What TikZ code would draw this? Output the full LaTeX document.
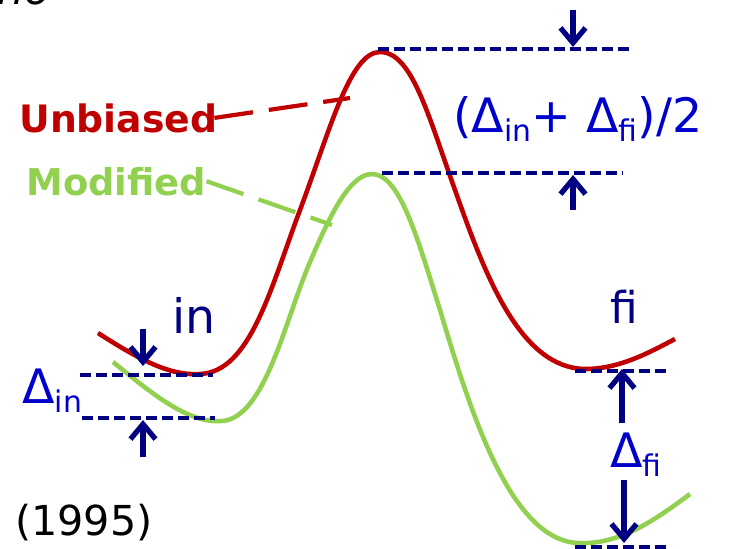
\documentclass[tikz,border=0pt]{standalone}
\usepackage{fontspec}
\setmainfont{DejaVu Sans}
\usepackage{xcolor}
\usetikzlibrary{
	arrows.meta,
	positioning
}
\definecolor{unbred}{HTML}{C00000}
\definecolor{modgreen}{HTML}{92D050}
\definecolor{lvlnavy}{HTML}{000080}
\definecolor{lblblue}{HTML}{0000CC}
\newcommand{\lowsub}[1]{\raisebox{-5.5pt}{\fontsize{17pt}{17pt}\selectfont #1}}

\begin{document}
\begin{tikzpicture}[x=0.02cm,y=-0.02cm,>={Straight Barb[length=3mm,width=5mm]},
	curve/.style={line width=2.6pt},
	leader/.style={line width=2.4pt,dash pattern=on 0.78cm off 0.32cm},
	level/.style={lvlnavy,line width=2pt,dash pattern=on 0.22cm off 0.1cm},
	gap/.style={->,lvlnavy,line width=3pt},
	lbl/.style={inner sep=0pt,anchor=base west}]
			
			\useasboundingbox (0,0) rectangle (729,548);
			
			\node[lbl,font=\itshape\fontsize{24pt}{24pt}\selectfont] (cut) at (-3,4) {no};
			
			\draw[curve,unbred] (98,333) .. controls (140,360) and (170,376) .. (200,374)
			.. controls (250,372) and (270,290) .. (300,210)
			.. controls (330,130) and (350,52) .. (380,52)
			.. controls (412,52) and (428,115) .. (455,190)
			.. controls (485,275) and (520,368) .. (585,369)
			.. controls (620,369) and (650,352) .. (675,339);
			
			\draw[curve,modgreen] (113,362) .. controls (150,392) and (188,424) .. (222,421)
			.. controls (265,418) and (285,320) .. (310,262)
			.. controls (330,215) and (350,174) .. (372,174)
			.. controls (400,174) and (418,240) .. (440,310)
			.. controls (470,410) and (510,540) .. (578,543)
			.. controls (620,545) and (655,520) .. (690,494);
			
			\node[lbl,unbred,font=\bfseries\fontsize{21.5pt}{21.5pt}\selectfont] (unb) at (19,132) {Unbiased};
			\node[lbl,modgreen,font=\bfseries\fontsize{21pt}{21pt}\selectfont] (mod) at (26,195) {Modified};
			\coordinate (unbtip) at (350,98);
			\coordinate (modtip) at (332,225);
			\draw[leader,unbred] ([xshift=-2pt]unb.east) -- (unbtip);
			\draw[leader,modgreen] (mod.east) -- (modtip);
			
			\node[lbl,lvlnavy,font=\fontsize{27pt}{27pt}\selectfont] (in) at (172,333) {in};
			\node[lbl,lvlnavy,font=\fontsize{25pt}{25pt}\selectfont] (fi) at (610,323) {fi};
			
			\node[lbl,lblblue,font=\fontsize{27pt}{27pt}\selectfont] (din) at (22,403) {Δ\lowsub{in}};
			\node[lbl,lblblue,font=\fontsize{27pt}{27pt}\selectfont] (dfi) at (610,467) {Δ\lowsub{fi}};
			\node[lbl,lblblue,font=\fontsize{27pt}{27pt}\selectfont] (dmean) at (453,132) {(Δ\lowsub{in}+ Δ\lowsub{fi})/2};
			\node[lbl,font=\fontsize{23.5pt}{23.5pt}\selectfont] (year) at (15,535) {(1995)};
			
			\coordinate (top1) at (378,49);   \coordinate (top2) at (632,49);
			\coordinate (mid1) at (382,173);  \coordinate (mid2) at (622,173);
			\coordinate (in1) at (80,375);    \coordinate (in2) at (213,375);
			\coordinate (inb1) at (82,418);   \coordinate (inb2) at (215,418);
			\coordinate (fi1) at (575,371);   \coordinate (fi2) at (667,371);
			\coordinate (fib1) at (575,547);  \coordinate (fib2) at (667,547);
			\draw[level] (top1) -- (top2);
			\draw[level] (mid1) -- (mid2);
			\draw[level] (in1) -- (in2);
			\draw[level] (inb1) -- (inb2);
			\draw[level] (fi1) -- (fi2);
			\draw[level] (fib1) -- (fib2);
			
			\coordinate (a1) at (573,10);   \coordinate (a1e) at (573,47);
			\coordinate (a2) at (573,210);  \coordinate (a2e) at (573,175);
			\coordinate (a3) at (143,329);  \coordinate (a3e) at (143,366);
			\coordinate (a4) at (143,457);  \coordinate (a4e) at (143,420);
			\coordinate (a5) at (622,423);  \coordinate (a5e) at (622,369);
			\coordinate (a6) at (624,480);  \coordinate (a6e) at (624,543);
			\draw[gap] (a1) -- (a1e);
			\draw[gap] (a2) -- (a2e);
			\draw[gap] (a3) -- (a3e);
			\draw[gap] (a4) -- (a4e);
			\draw[gap] (a5) -- (a5e);
			\draw[gap] (a6) -- (a6e);
			
		\end{tikzpicture}
\end{document}
